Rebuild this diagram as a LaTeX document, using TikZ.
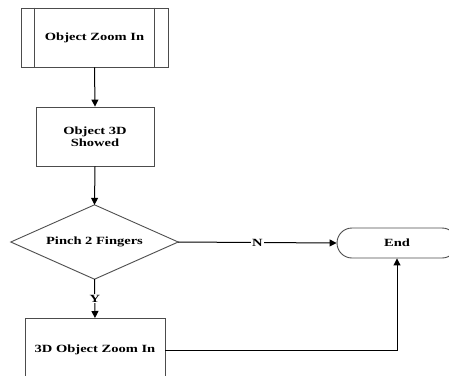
\documentclass[tikz,border=0pt]{standalone}
\usepackage{fontspec}
\newfontfamily\labfont[FakeStretch=1.32]{Liberation Serif}
\usetikzlibrary{arrows.meta,shapes.misc}
\tikzset{
  lab/.style={font=\labfont\bfseries\fontsize{11}{12.5}\selectfont, align=center},
  box/.style={lab, draw=black!70, line width=0.9pt, inner sep=0pt},
  conn/.style={line width=1pt, -{Triangle[length=7pt,width=7pt]}},
  edgelab/.style={lab, fill=white, inner sep=1pt}
}
\begin{document}
\begin{tikzpicture}[x=1pt,y=-1pt]
\useasboundingbox (0,0) rectangle (449,375);
\clip (0,0) rectangle (449,375);
\node[box, minimum width=147pt, minimum height=59pt] (zoom) at (94.5,37.5) {Object Zoom In};
\draw[draw=black!70, line width=0.9pt] ([xshift=14pt]zoom.north west) -- ([xshift=14pt]zoom.south west);
\draw[draw=black!70, line width=0.9pt] ([xshift=-14pt]zoom.north east) -- ([xshift=-14pt]zoom.south east);
\node[box, minimum width=118pt, minimum height=59pt] (show) at (95,136.5) {Object 3D\\Showed};
\node[lab, minimum width=167pt, minimum height=74pt, inner sep=0pt] (pinch) at (94.5,242) {Pinch 2 Fingers};
\draw[draw=black!70, line width=0.9pt] (pinch.north) -- (pinch.east) -- (pinch.south) -- (pinch.west) -- cycle;
\node[box, minimum width=140pt, minimum height=62pt, anchor=north] (zin) at (95,318) {};
\node[lab] (zintext) at (95,350) {3D Object Zoom In};
\node[box, rounded rectangle, minimum width=120pt, minimum height=30pt] (end) at (397,243) {End};
\draw[conn] (zoom.south) -- (show.north);
\draw[conn] (show.south) -- (pinch.north);
\draw[conn] (pinch.south) -- node[edgelab] {Y} (zin.north);
\draw[conn] (pinch.east) -- node[edgelab] {N} (end.west);
\coordinate (turn) at (end.south |- zintext);
\draw[conn] (zintext -| zin.east) -- (turn) -- (end.south);
\end{tikzpicture}
\end{document}
